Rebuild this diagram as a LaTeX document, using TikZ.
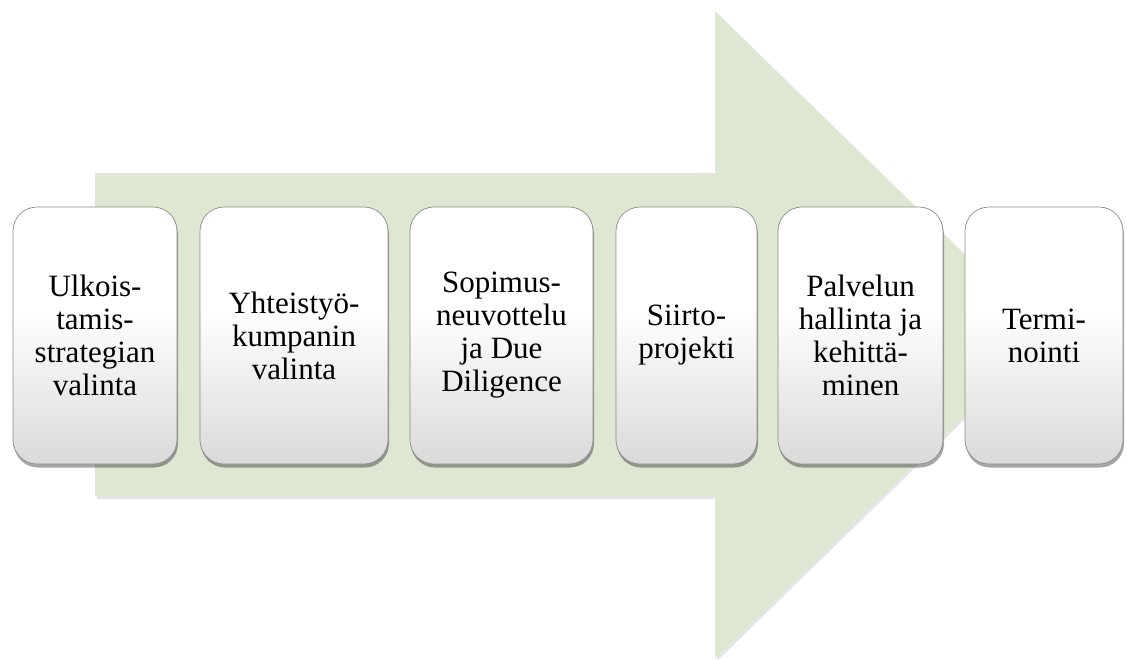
\documentclass[tikz,border=0pt]{standalone}
\usepackage{fontspec}
\setmainfont{Liberation Serif}
\usetikzlibrary{shadows}
\definecolor{arrowgreen}{RGB}{222,231,209}
\definecolor{boxedge}{RGB}{140,140,140}
% white upper half fading to light grey at the bottom (declared bottom to top)
\pgfdeclareverticalshading{stageshade}{100bp}{color(0bp)=(black!19); color(20bp)=(black!17); color(55bp)=(white); color(100bp)=(white)}
\tikzset{
  stagebox/.style={
    rectangle, rounded corners=24pt, draw=boxedge, line width=0.7pt,
    shading=stageshade, align=center, inner sep=4pt,
    minimum height=257pt, text=black,
    font=\fontsize{31}{33}\selectfont,
    drop shadow={shadow xshift=1pt, shadow yshift=-3.5pt, opacity=0.35, fill=black}
  },
  bigarrow/.style={fill=arrowgreen, draw=none}
}
\begin{document}
\begin{tikzpicture}[x=1pt,y=-1pt]
  \useasboundingbox (0,0) rectangle (1127,659);
  % process arrow in the background
  \fill[black, opacity=0.10] (97,176) -- (717,176) -- (717,14) -- (1049,337)
        -- (717,661) -- (717,499) -- (97,499) -- cycle;
  \path[bigarrow] (95,173) -- (715,173) -- (715,11) -- (1047,334.5)
        -- (715,658) -- (715,496) -- (95,496) -- cycle;
  % stages
  \node[stagebox, minimum width=164pt] (s1) at (95,335.5) {Ulkois-\\tamis-\\strategian\\valinta};
  \node[stagebox, minimum width=188pt] (s2) at (294,335.5) {Yhteistyö-\\kumpanin\\valinta};
  \node[stagebox, minimum width=183pt] (s3) at (501.5,335.5) {Sopimus-\\neuvottelu\\ja Due\\Diligence};
  \node[stagebox, minimum width=141pt] (s4) at (686.5,335.5) {Siirto-\\projekti};
  \node[stagebox, minimum width=165pt] (s5) at (860.5,335.5) {Palvelun\\hallinta ja\\kehittä-\\minen};
  \node[stagebox, minimum width=158pt] (s6) at (1044,335.5) {Termi-\\nointi};
\end{tikzpicture}
\end{document}
